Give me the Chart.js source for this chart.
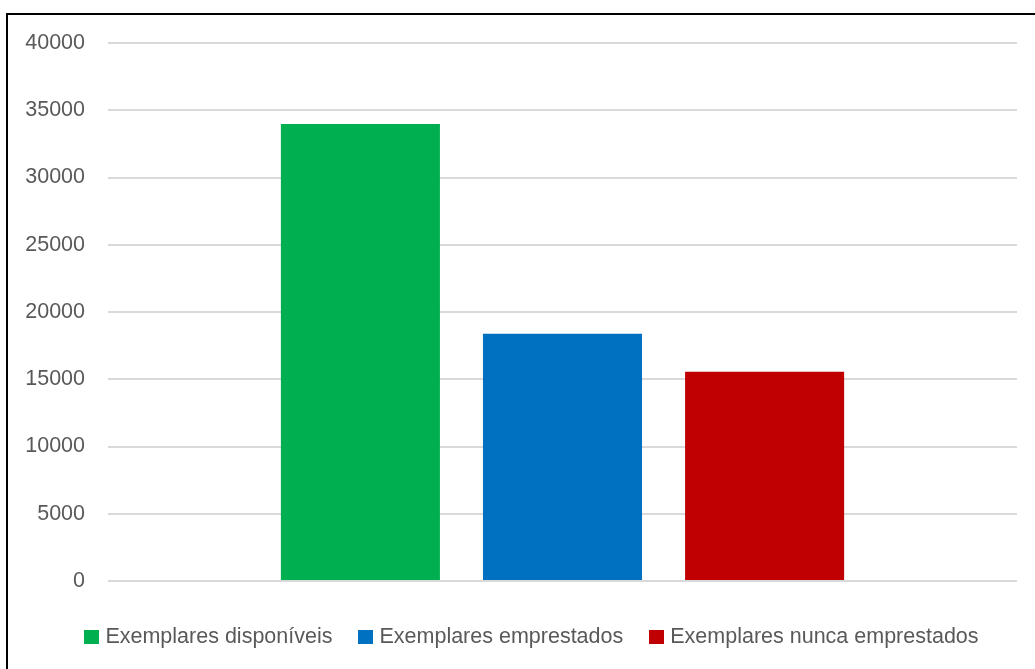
<!DOCTYPE html>
<html lang="pt">
<head>
<meta charset="utf-8">
<title>Exemplares</title>
<script src="https://cdn.jsdelivr.net/npm/chart.js@4/dist/chart.umd.min.js"></script>
<style>
  html, body { margin: 0; padding: 0; background: #fff; overflow: hidden; }
  #wrap { position: relative; width: 1035px; height: 669px; overflow: hidden; }
  #frame { position: absolute; left: 6px; top: 13px; width: 2000px; height: 2000px;
           border-left: 2px solid #000; border-top: 2px solid #000; box-sizing: border-box; }
  #chart { position: absolute; left: 0; top: 0; }
  #legend { position: absolute; left: 0; top: 624px; width: 1063px; display: flex;
            justify-content: center; align-items: center;
            font-family: "Liberation Sans", Arial, sans-serif; font-size: 21.5px; color: #595959; }
  .item { display: flex; align-items: center; margin: 0 13px; white-space: nowrap; }
  .box { width: 15px; height: 14px; margin-right: 6px; }
</style>
</head>
<body>
<div id="wrap">
  <div id="frame"></div>
  <canvas id="chart" width="1035" height="669"></canvas>
  <div id="legend"></div>
</div>
<script>
// One category, three series drawn side by side
const categories = [''];
const seriesNames = ['Exemplares disponíveis', 'Exemplares emprestados', 'Exemplares nunca emprestados'];
const seriesValues = [33970, 18380, 15560];
const seriesColors = ['#00b050', '#0070c0', '#c00000'];
const yTicks = [0, 5000, 10000, 15000, 20000, 25000, 30000, 35000, 40000];

const FONT = '"Liberation Sans", Arial, sans-serif';

const datasets = seriesNames.map((name, i) => ({
  label: name,
  data: [seriesValues[i]],
  backgroundColor: seriesColors[i],
  borderWidth: 0,
  categoryPercentage: 0.667,
  barPercentage: 0.787
}));

new Chart(document.getElementById('chart'), {
  type: 'bar',
  data: { labels: categories, datasets },
  options: {
    responsive: false,
    animation: false,
    events: [],
    layout: { padding: { left: 8, right: 18, top: 43, bottom: 88 } },
    plugins: { legend: { display: false }, tooltip: { enabled: false } },
    scales: {
      x: { display: false },
      y: {
        min: yTicks[0],
        max: yTicks[yTicks.length - 1],
        afterFit: s => { s.width = 100; },
        afterBuildTicks: s => { s.ticks = yTicks.map(v => ({ value: v })); },
        border: { display: false },
        grid: { color: '#d9d9d9', lineWidth: 2, drawTicks: false },
        ticks: {
          padding: 23,
          color: '#595959',
          font: { family: FONT, size: 21.5 },
          callback: v => String(v)
        }
      }
    }
  }
});

// Legend row built from the series arrays
const legend = document.getElementById('legend');
seriesNames.forEach((name, i) => {
  const item = document.createElement('div');
  item.className = 'item';
  const box = document.createElement('span');
  box.className = 'box';
  box.style.background = seriesColors[i];
  const txt = document.createElement('span');
  txt.textContent = name;
  item.appendChild(box);
  item.appendChild(txt);
  legend.appendChild(item);
});
</script>
</body>
</html>
